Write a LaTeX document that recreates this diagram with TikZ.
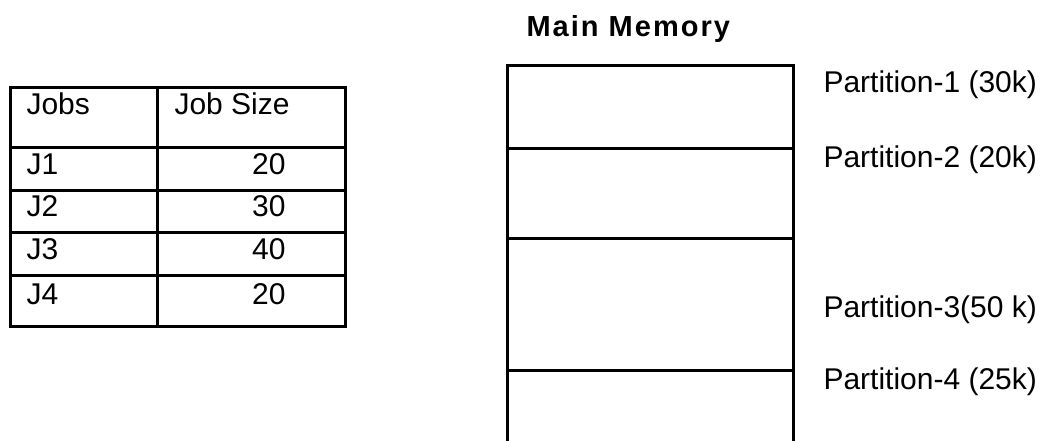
\documentclass[tikz,border=0pt]{standalone}
\usepackage{fontspec}
\setmainfont{Liberation Sans}
\begin{document}
\begin{tikzpicture}[x=1pt,y=1pt,line width=3pt,line join=miter,
  txt/.style={font=\fontsize{30}{36}\selectfont,inner sep=0pt,anchor=base west},
  num/.style={font=\fontsize{30}{36}\selectfont,inner sep=0pt,anchor=base east},
  title/.style={font=\fontsize{29}{36}\selectfont\bfseries\addfontfeature{LetterSpace=7},inner sep=0pt,anchor=base west}]
\useasboundingbox (0,0) rectangle (1049,441);
% table
\draw (10,114) rectangle (345,353);
\draw (157,114) -- (157,353);
\foreach \yy in {293,250,208,165} \draw (10,\yy) -- (345,\yy);
\node[txt] (hjobs) at (25,326) {Jobs};
\node[txt] (hsize) at (173,326) {Job Size};
\node[txt] (j1) at (25,266) {J1};
\node[txt] (j2) at (25,224) {J2};
\node[txt] (j3) at (25,181) {J3};
\node[txt] (j4) at (25,136) {J4};
\node[num] (s1) at (287,266) {20};
\node[num] (s2) at (287,224) {30};
\node[num] (s3) at (287,181) {40};
\node[num] (s4) at (287,136) {20};
% main memory
\node[title] (mm) at (525,404) {Main Memory};
\draw (507,0) -- (507,375) -- (793,375) -- (793,0);
\foreach \yy in {292,202,70} \draw (507,\yy) -- (793,\yy);
\node[txt] (p1) at (822,348) {Partition-1 (30k)};
\node[txt] (p2) at (822,273) {Partition-2 (20k)};
\node[txt] (p3) at (822,123) {Partition-3(50 k)};
\node[txt] (p4) at (822,51) {Partition-4 (25k)};
\end{tikzpicture}
\end{document}
